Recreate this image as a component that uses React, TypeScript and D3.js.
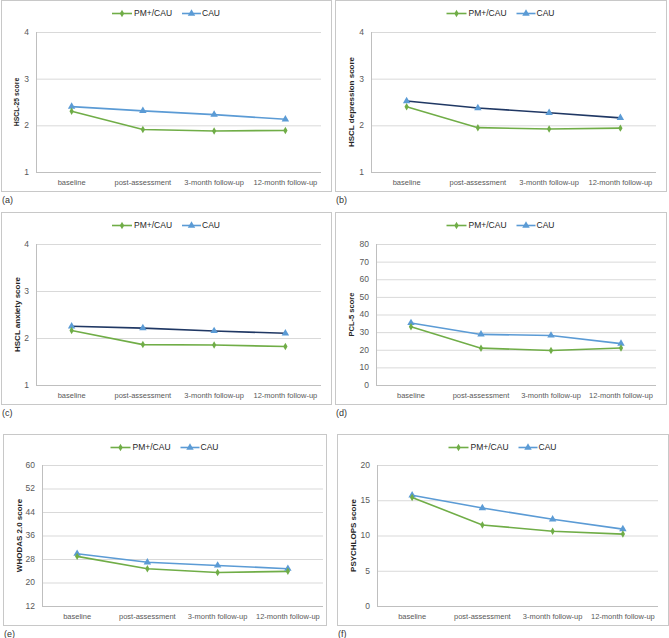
import * as d3 from 'd3';

const categories = ['baseline', 'post-assessment', '3-month follow-up', '12-month follow-up'];
const seriesNames = ['PM+/CAU', 'CAU'];

// panel values
const hsclTotalPm = [2.3, 1.91, 1.88, 1.89];
const hsclTotalCau = [2.4, 2.31, 2.23, 2.13];
const hsclDepPm = [2.4, 1.95, 1.92, 1.94];
const hsclDepCau = [2.52, 2.37, 2.27, 2.16];
const hsclAnxPm = [2.16, 1.86, 1.85, 1.82];
const hsclAnxCau = [2.25, 2.21, 2.15, 2.1];
const pclPm = [33, 20.9, 19.6, 21];
const pclCau = [35.2, 28.7, 28.1, 23.5];
const whodasPm = [28.9, 24.7, 23.4, 23.8];
const whodasCau = [29.8, 26.9, 25.8, 24.7];
const psychlopsPm = [15.4, 11.5, 10.6, 10.2];
const psychlopsCau = [15.7, 13.9, 12.3, 10.9];

const hsclTicks = [1, 2, 3, 4];
const pclTicks = [0, 10, 20, 30, 40, 50, 60, 70, 80];
const whodasTicks = [12, 20, 28, 36, 44, 52, 60];
const psychlopsTicks = [0, 5, 10, 15, 20];

const GREEN = '#70ad47';
const BLUE = '#5b9bd5';
const NAVY = '#203864';
const FONT = '"Liberation Sans", Arial, sans-serif';

type Panel = {
  tag: string;
  title: string;
  pm: number[];
  cau: number[];
  ticks: number[];
  box: [number, number, number, number];
  plot: [number, number, number, number]; // left, right, top, bottom
  titleSize: number;
  cauLine: string;
};

const panels: Panel[] = [
  { tag: '(a)', title: 'HSCL-25 score', pm: hsclTotalPm, cau: hsclTotalCau, ticks: hsclTicks,
    box: [1, 0, 330, 191], plot: [36, 321, 32, 172], titleSize: 6.8, cauLine: BLUE },
  { tag: '(b)', title: 'HSCL  depression score', pm: hsclDepPm, cau: hsclDepCau, ticks: hsclTicks,
    box: [335, 0, 331, 191], plot: [371, 656, 32, 172], titleSize: 8, cauLine: NAVY },
  { tag: '(c)', title: 'HSCL  anxiety score', pm: hsclAnxPm, cau: hsclAnxCau, ticks: hsclTicks,
    box: [1, 212, 330, 192], plot: [36, 321, 244, 385], titleSize: 8, cauLine: NAVY },
  { tag: '(d)', title: 'PCL-5 score', pm: pclPm, cau: pclCau, ticks: pclTicks,
    box: [335, 212, 331, 192], plot: [376, 656, 244, 385], titleSize: 7.5, cauLine: BLUE },
  { tag: '(e)', title: 'WHODAS 2.0 score', pm: whodasPm, cau: whodasCau, ticks: whodasTicks,
    box: [3, 434, 323, 191], plot: [42, 323, 465, 606], titleSize: 8, cauLine: BLUE },
  { tag: '(f)', title: 'PSYCHLOPS score', pm: psychlopsPm, cau: psychlopsCau, ticks: psychlopsTicks,
    box: [337, 434, 331, 191], plot: [377, 658, 465, 606], titleSize: 8, cauLine: BLUE },
];

const diamond = d3.symbol().type(d3.symbolDiamond).size(16)();
const triangle = d3.symbol().type(d3.symbolTriangle).size(24)();

function ChartPanel({ p }: { p: Panel }) {
  const [bx, by, bw, bh] = p.box;
  const [left, right, top, bottom] = p.plot;
  const x = d3.scaleBand().domain(categories).range([left, right]);
  const y = d3
    .scaleLinear()
    .domain([p.ticks[0], p.ticks[p.ticks.length - 1]])
    .range([bottom, top]);
  const cx = (i: number) => x(categories[i])! + x.bandwidth() / 2;
  const line = d3
    .line<number>()
    .x((_, i) => cx(i))
    .y((d) => y(d));

  const legendCx = bx + bw / 2;
  const legendY = by + 13.5;

  return (
    <g>
      <rect x={bx + 0.5} y={by + 0.5} width={bw} height={bh} fill="#fff" stroke="#c8c8c8" />
      {p.ticks.map((t) => (
        <g key={t}>
          <line x1={left} x2={right} y1={y(t) + 0.5} y2={y(t) + 0.5} stroke={t === p.ticks[0] ? '#bfbfbf' : '#d9d9d9'} />
          <text x={left - 7} y={y(t)} dy="0.35em" textAnchor="end" fontSize={8.5} fill="#595959">
            {t}
          </text>
        </g>
      ))}
      <line x1={left + 0.5} x2={left + 0.5} y1={top} y2={bottom} stroke="#bfbfbf" />
      {categories.map((c, i) => (
        <text key={c} x={cx(i)} y={bottom + 13} textAnchor="middle" fontSize={7.5} fill="#595959">
          {c}
        </text>
      ))}
      <text
        transform={`translate(${bx + 16},${(top + bottom) / 2}) rotate(-90)`}
        textAnchor="middle"
        dy="0.35em"
        fontSize={p.titleSize}
        fontWeight="bold"
        fill="#262626"
      >
        {p.title}
      </text>

      <path d={line(p.cau)!} fill="none" stroke={p.cauLine} strokeWidth={1.6} />
      <path d={line(p.pm)!} fill="none" stroke={GREEN} strokeWidth={1.6} />
      {p.cau.map((v, i) => (
        <path key={'c' + i} d={triangle} transform={`translate(${cx(i)},${y(v)})`} fill={BLUE} />
      ))}
      {p.pm.map((v, i) => (
        <path key={'p' + i} d={diamond} transform={`translate(${cx(i)},${y(v)})`} fill={GREEN} />
      ))}

      {/* legend */}
      <line x1={legendCx - 54} x2={legendCx - 34} y1={legendY} y2={legendY} stroke={GREEN} strokeWidth={1.6} />
      <path d={diamond} transform={`translate(${legendCx - 44},${legendY})`} fill={GREEN} />
      <text x={legendCx - 32} y={legendY} dy="0.35em" fontSize={8.5} fill="#262626">
        {seriesNames[0]}
      </text>
      <line x1={legendCx + 16} x2={legendCx + 35} y1={legendY} y2={legendY} stroke={BLUE} strokeWidth={1.6} />
      <path d={triangle} transform={`translate(${legendCx + 25.5},${legendY})`} fill={BLUE} />
      <text x={legendCx + 36} y={legendY} dy="0.35em" fontSize={8.5} fill="#262626">
        {seriesNames[1]}
      </text>

      <text x={bx + 1} y={by + bh + 12} fontSize={9} fill="#333">
        {p.tag}
      </text>
    </g>
  );
}

export default function App() {
  return (
    <svg
      width={669}
      height={638}
      style={{ position: 'absolute', left: 0, top: 0, fontFamily: FONT }}
    >
      <rect width={669} height={638} fill="#fff" />
      {panels.map((p) => (
        <ChartPanel key={p.tag} p={p} />
      ))}
    </svg>
  );
}
